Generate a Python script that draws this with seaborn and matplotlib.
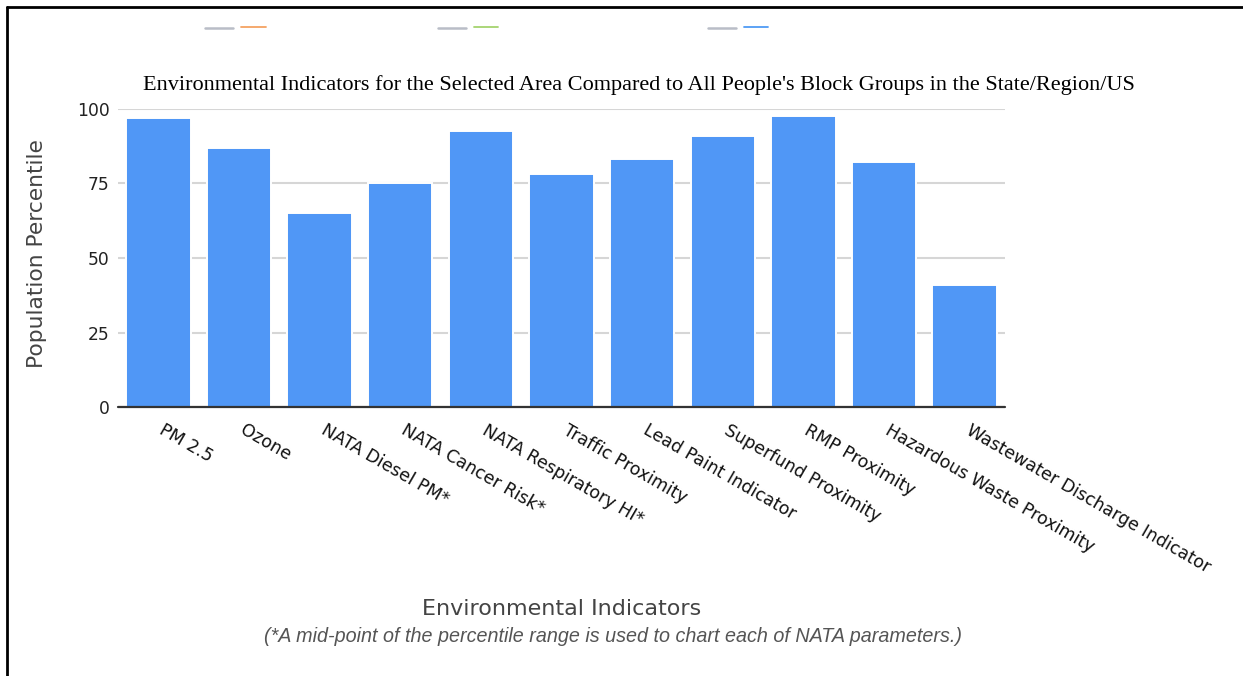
import matplotlib
matplotlib.use("Agg")
import matplotlib.pyplot as plt
import matplotlib.lines as mlines
import matplotlib.transforms as mtrans
import seaborn as sns
import pandas as pd

categories = ["PM 2.5", "Ozone", "NATA Diesel PM*", "NATA Cancer Risk*",
              "NATA Respiratory HI*", "Traffic Proximity", "Lead Paint Indicator",
              "Superfund Proximity", "RMP Proximity", "Hazardous Waste Proximity",
              "Wastewater Discharge Indicator"]
percentiles = [97, 87, 65, 75, 92.5, 78, 83, 91, 97.5, 82, 41]
y_ticks = [0, 25, 50, 75, 100]

title_text = "Environmental Indicators for the Selected Area Compared to All People's Block Groups in the State/Region/US"
x_label = "Environmental Indicators"
y_label = "Population Percentile"
footnote = "(*A mid-point of the percentile range is used to chart each of NATA parameters.)"

sns.set_theme(style="white")
plt.rcParams['font.family'] = ['DejaVu Sans']

W, H = 1243, 676
fig = plt.figure(figsize=(W / 100, H / 100), dpi=100)
left, right, top, bottom = 118, 1005, 108.7, 407.3
ax = fig.add_axes([left / W, 1 - bottom / H, (right - left) / W, (bottom - top) / H])

df = pd.DataFrame({"Indicator": categories, "Percentile": percentiles})
sns.barplot(data=df, x="Indicator", y="Percentile", color="#5097F6", saturation=1,
            width=0.8, edgecolor="white", linewidth=1.4, ax=ax, zorder=3)

ax.set_xlim(-0.5, len(categories) - 0.5)
ax.set_ylim(0, 100)
ax.set_yticks(y_ticks)
ax.yaxis.grid(True, color="#d6d6d6", linewidth=1.5, zorder=0)
ax.xaxis.grid(False)
ax.set_axisbelow(True)
for s in ax.spines.values():
    s.set_visible(False)
ax.axhline(0, color="#333333", linewidth=1.6, zorder=4, clip_on=False)

ax.tick_params(axis="y", length=0, pad=6, labelsize=12.3, labelcolor="#222222")
ax.tick_params(axis="x", length=0, pad=10, labelsize=12.5, labelcolor="#111111")
offset = mtrans.ScaledTranslation(7 / 100, 0, fig.dpi_scale_trans)
for lab in ax.get_xticklabels():
    lab.set_rotation(-30)
    lab.set_rotation_mode("anchor")
    lab.set_ha("left")
    lab.set_va("top")
    lab.set_transform(lab.get_transform() + offset)

ax.set_xlabel(x_label, fontsize=16, color="#444444")
ax.xaxis.set_label_coords((562 - left) / (right - left), (bottom - 609) / (bottom - top))
ax.xaxis.label.set_va("center")
ax.set_ylabel(y_label, fontsize=15.7, color="#444444")
ax.yaxis.set_label_coords((37 - left) / (right - left), (bottom - 254) / (bottom - top))
ax.yaxis.label.set_va("center")

fig.text(639 / W, 1 - 85 / H, title_text, ha="center", va="center",
         fontsize=16, family="Liberation Serif", color="#000000")
fig.text(613 / W, 1 - 636 / H, footnote, ha="center", va="center",
         fontsize=14.2, family="Liberation Sans", style="italic", color="#555555")

# legend placeholder dashes at top
dash_pairs = [((205, 233), (241, 266), "#f5a262"),
              ((438, 466), (474, 498), "#a5d36e"),
              ((708, 736), (744, 768), "#4f9bf5")]
for g, c, col in dash_pairs:
    fig.add_artist(mlines.Line2D([g[0] / W, g[1] / W], [1 - 27.5 / H] * 2,
                                 color="#b9bdc7", linewidth=1.8))
    fig.add_artist(mlines.Line2D([c[0] / W, c[1] / W], [1 - 27 / H] * 2,
                                 color=col, linewidth=1.3))

# outer frame (left and top edges)
fig.add_artist(mlines.Line2D([6.5 / W, 6.5 / W], [0, 1 - 7 / H], color="black", linewidth=2))
fig.add_artist(mlines.Line2D([6.5 / W, 1], [1 - 7 / H, 1 - 7 / H], color="black", linewidth=2))

fig.savefig("out.png", dpi=100)
